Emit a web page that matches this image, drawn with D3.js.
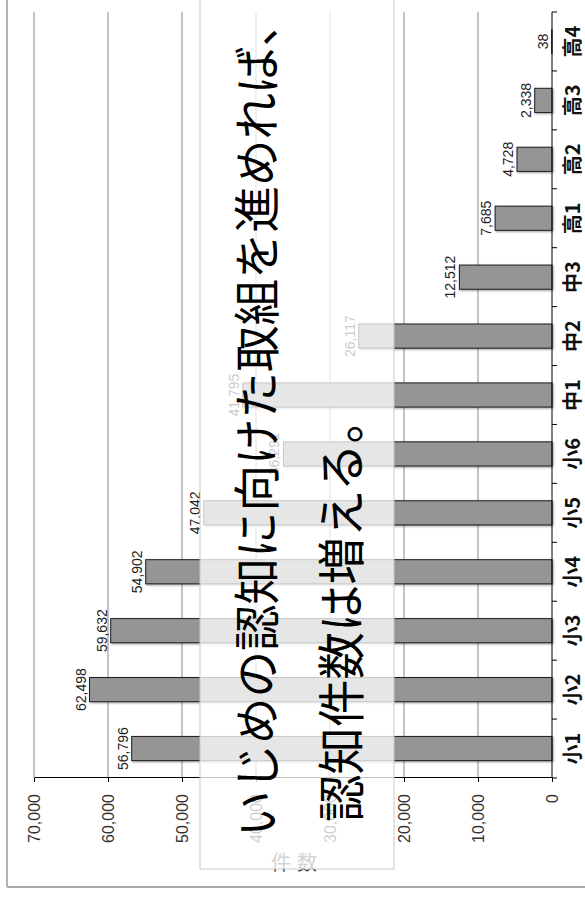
<!DOCTYPE html>
<html>
<head>
<meta charset="utf-8">
<script src="https://cdn.jsdelivr.net/npm/d3@7"></script>
<style>
  html, body { margin: 0; padding: 0; background: #fff; }
  svg { display: block; }
</style>
</head>
<body>
<div id="chart"></div>
<script>
// grades and number of recognised bullying cases
var categories = ["小1", "小2", "小3", "小4", "小5", "小6", "中1", "中2", "中3", "高1", "高2", "高3", "高4"];
var values = [56796, 62498, 59632, 54902, 47042, 36291, 41795, 26117, 12512, 7685, 4728, 2338, 38];
var valueTicks = [0, 10000, 20000, 30000, 40000, 50000, 60000, 70000];
var axisTitle = "件数";
var messageLines = ["いじめの認知に向けた取組を進めれば、", "認知件数は増える。"];

var W = 585, H = 899;

var svg = d3.select("#chart")
	.append("svg")
	.attr("width", W)
	.attr("height", H);

var defs = svg.append("defs");
var shadow = defs.append("filter")
	.attr("id", "shadow")
	.attr("x", "-20%").attr("y", "-20%")
	.attr("width", "140%").attr("height", "140%");
shadow.append("feDropShadow")
	.attr("dx", -1).attr("dy", 1)
	.attr("stdDeviation", 1.2)
	.attr("flood-color", "#000")
	.attr("flood-opacity", 0.4);

// the whole chart is drawn upright and then turned a quarter to the left
var chart = svg.append("g")
	.attr("transform", "translate(0," + H + ") rotate(-90)");

var x = d3.scaleBand()
	.domain(categories)
	.range([121, 887])
	.paddingInner(0.59)
	.paddingOuter(0.295);

var y = d3.scaleLinear()
	.domain([0, 70000])
	.range([552, 34]);

// grid
chart.append("g")
	.selectAll("line")
	.data(valueTicks.slice(1))
	.enter()
	.append("line")
	.attr("x1", 121)
	.attr("x2", 887)
	.attr("y1", function (d) { return y(d); })
	.attr("y2", function (d) { return y(d); })
	.attr("stroke", "#8a8a8a")
	.attr("stroke-width", 1);

// value axis
var yAxis = chart.append("g")
	.attr("transform", "translate(121,0)")
	.call(d3.axisLeft(y)
		.tickValues(valueTicks)
		.tickSize(4)
		.tickSizeOuter(0)
		.tickPadding(12)
		.tickFormat(d3.format(",")));
yAxis.select(".domain").attr("stroke", "#000");
yAxis.selectAll(".tick line").attr("stroke", "#000");
yAxis.selectAll("text")
	.attr("font-family", "'Liberation Sans', Arial, sans-serif")
	.attr("font-size", 16)
	.attr("fill", "#333");

// bars
chart.append("g")
	.selectAll("rect")
	.data(values)
	.enter()
	.append("rect")
	.attr("x", function (d, i) { return x(categories[i]); })
	.attr("y", function (d) { return y(d); })
	.attr("width", x.bandwidth())
	.attr("height", function (d) { return y(0) - y(d); })
	.attr("fill", "#959595")
	.attr("stroke", "#1e1e1e")
	.attr("stroke-width", 1)
	.attr("filter", "url(#shadow)");

// value labels
chart.append("g")
	.selectAll("text")
	.data(values)
	.enter()
	.append("text")
	.attr("x", function (d, i) { return x(categories[i]) + x.bandwidth() / 2; })
	.attr("y", function (d) { return y(d) - 4; })
	.attr("text-anchor", "middle")
	.attr("font-family", "'Liberation Sans', Arial, sans-serif")
	.attr("font-size", 14)
	.attr("fill", "#222")
	.text(function (d) { return d3.format(",")(d); });

// category axis with ticks between the grades
var gap = (x.step() - x.bandwidth()) / 2;
var bounds = categories.map(function (c) { return x(c) - gap; });
bounds.push(x(categories[categories.length - 1]) + x.bandwidth() + gap);

var xAxis = chart.append("g");
xAxis.append("line")
	.attr("x1", x.range()[0])
	.attr("x2", x.range()[1])
	.attr("y1", y(0))
	.attr("y2", y(0))
	.attr("stroke", "#000");
xAxis.selectAll(".tk")
	.data(bounds)
	.enter()
	.append("line")
	.attr("class", "tk")
	.attr("x1", function (d) { return d; })
	.attr("x2", function (d) { return d; })
	.attr("y1", y(0))
	.attr("y2", y(0) + 5)
	.attr("stroke", "#000");
xAxis.selectAll("text")
	.data(categories)
	.enter()
	.append("text")
	.attr("x", function (d) { return x(d) + x.bandwidth() / 2; })
	.attr("y", 580)
	.attr("text-anchor", "middle")
	.attr("font-family", "'Noto Sans CJK JP', sans-serif")
	.attr("font-size", 20)
	.attr("font-weight", "bold")
	.attr("fill", "#111")
	.text(function (d) { return d; });

// axis title (upright on the page)
svg.append("text")
	.attr("x", 271)
	.attr("y", 870)
	.attr("font-family", "'Noto Sans CJK JP', sans-serif")
	.attr("font-size", 20)
	.attr("letter-spacing", 6)
	.attr("fill", "#444")
	.text(axisTitle);

// frame
svg.append("line")
	.attr("x1", 7).attr("x2", 7)
	.attr("y1", 0).attr("y2", 887)
	.attr("stroke", "#666");
svg.append("line")
	.attr("x1", 7).attr("x2", W)
	.attr("y1", 887).attr("y2", 887)
	.attr("stroke", "#aaa")
	.attr("stroke-width", 2);

// message box on top
var note = svg.append("g")
	.attr("transform", "translate(0," + H + ") rotate(-90)");
note.append("rect")
	.attr("x", 30)
	.attr("y", 200)
	.attr("width", 900)
	.attr("height", 194)
	.attr("fill", "#fff")
	.attr("fill-opacity", 0.76)
	.attr("stroke", "#c8c8c8");
note.selectAll("text")
	.data(messageLines)
	.enter()
	.append("text")
	.attr("x", function (d, i) { return i === 0 ? 62 : 77; })
	.attr("y", function (d, i) { return i === 0 ? 274 : 359; })
	.attr("font-family", "'Noto Sans CJK JP', sans-serif")
	.attr("font-size", function (d, i) { return i === 0 ? 46.5 : 47.5; })
	.attr("fill", "#000")
	.text(function (d) { return d; });
</script>
</body>
</html>
